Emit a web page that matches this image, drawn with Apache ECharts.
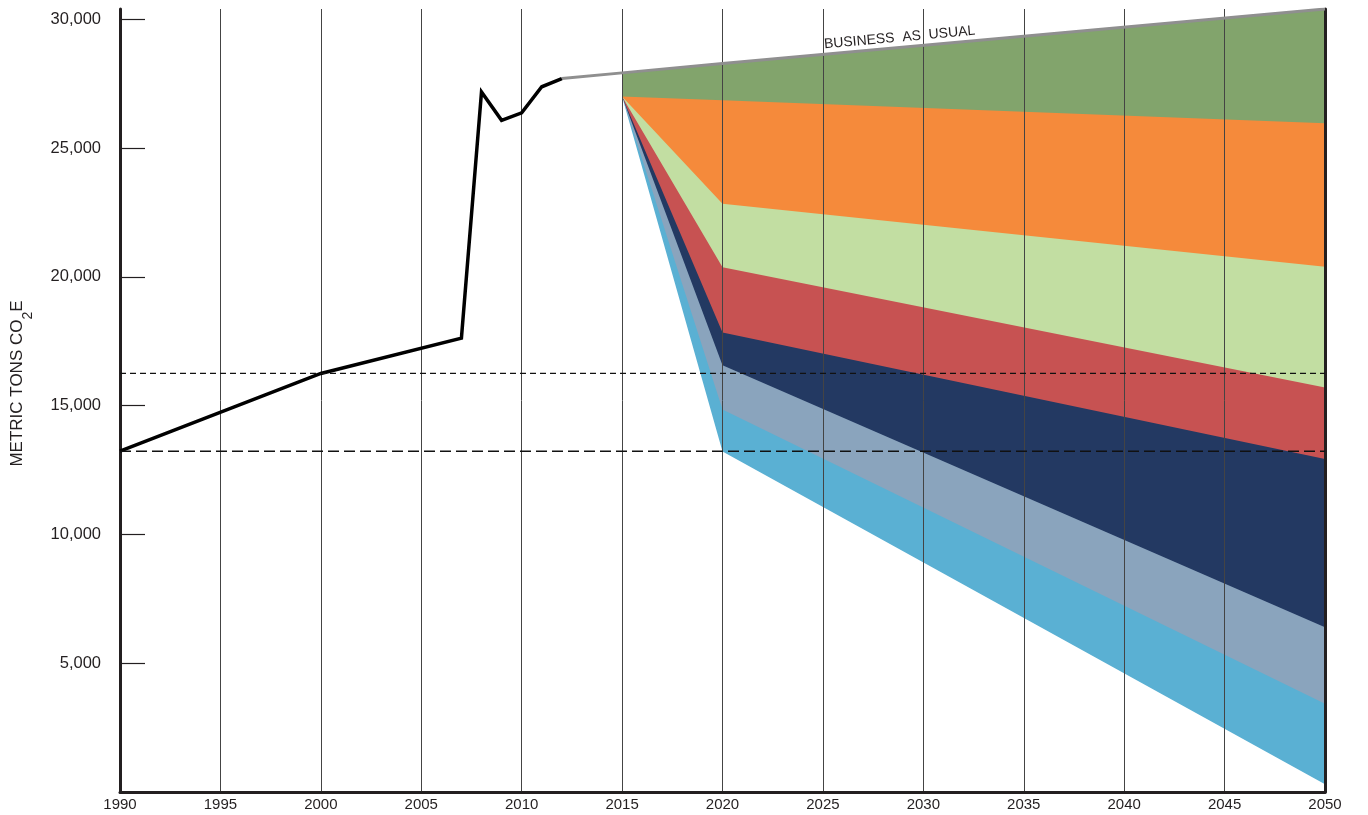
<!DOCTYPE html>
<html>
<head>
<meta charset="utf-8">
<script src="https://cdn.jsdelivr.net/npm/echarts@6/dist/echarts.min.js"></script>
<style>
  html, body { margin: 0; padding: 0; background: #fff; }
  #chart { width: 1368px; height: 815px; }
</style>
</head>
<body>
<div id="chart"></div>
<script>
// historical emissions (metric tons CO2e)
const historyYears = [1990, 2000, 2007, 2008, 2009, 2010, 2011, 2012];
const historyValues = [13230, 16250, 17620, 27180, 26080, 26370, 27380, 27700];

// business as usual projection
const bauYears = [2012, 2015, 2020, 2050];
const bauValues = [27700, 27920, 28280, 30400];

// scenario wedges: boundary values at each scenario year
const scenarioYears = [2015, 2020, 2050];
const lightBlueBottom = [27000, 13220, 300];
const lightBlueTop = [27000, 14850, 3430];
const greyBlueTop = [27000, 16570, 6400];
const navyTop = [27000, 17840, 12930];
const redTop = [27000, 20370, 15700];
const lightGreenTop = [27000, 22840, 20390];
const orangeTop = [27000, 26860, 25960];
const greenTop = [27920, 28280, 30400];

// dashed reference levels
const targetLevels = [16250, 13230];

// axis ticks
const yTicks = [5000, 10000, 15000, 20000, 25000, 30000];

const chart = echarts.init(document.getElementById('chart'));
const FONT = '"Liberation Sans", Arial, sans-serif';
const INK = '#231f20';

// each band is painted from its top edge down, the next one paints over it
const bandEdges = [
  { edge: greenTop, color: '#82a46c' },
  { edge: orangeTop, color: '#f58a3b' },
  { edge: lightGreenTop, color: '#c2dea2' },
  { edge: redTop, color: '#c75252' },
  { edge: navyTop, color: '#233962' },
  { edge: greyBlueTop, color: '#8aa4bd' },
  { edge: lightBlueTop, color: '#5ab0d3' },
  { edge: lightBlueBottom, color: '#ffffff' }
];

const pairs = (xs, ys) => xs.map((x, i) => [x, ys[i]]);

const series = bandEdges.map(b => ({
  type: 'line',
  data: pairs(scenarioYears, b.edge),
  symbol: 'none',
  lineStyle: { width: 0, opacity: 0 },
  areaStyle: { color: b.color, opacity: 1, origin: 'start' },
  silent: true,
  z: 2
}));

series.push({
  type: 'line',
  data: pairs(bauYears, bauValues),
  symbol: 'none',
  lineStyle: { color: '#8f8f8f', width: 3 },
  silent: true,
  z: 6
});

series.push({
  type: 'line',
  data: pairs(historyYears, historyValues),
  symbol: 'none',
  lineStyle: { color: '#000', width: 3.5, join: 'miter' },
  silent: true,
  z: 6
});

targetLevels.forEach((v, i) => {
  series.push({
    type: 'line',
    data: [[1990, v], [2050, v]],
    symbol: 'none',
    lineStyle: { color: '#111', width: 1.3, type: i === 0 ? [6, 4] : [11, 5] },
    silent: true,
    z: 7
  });
});

const option = {
  animation: false,
  grid: { left: 120, right: 43, top: 9, bottom: 23, outerBoundsMode: 'none', containLabel: false },
  xAxis: {
    type: 'value',
    min: 1990,
    max: 2050,
    interval: 5,
    z: 5,
    axisLine: { show: true, lineStyle: { color: INK, width: 3 } },
    axisTick: { show: false },
    axisLabel: { color: INK, fontSize: 15, fontFamily: FONT, margin: 5, formatter: v => String(v) },
    splitLine: { show: true, lineStyle: { color: '#444', width: 1 } }
  },
  yAxis: [
    {
      type: 'value',
      min: 0,
      max: 30400,
      z: 5,
      name: '{n|METRIC TONS CO}{sub|2}{n|E}',
      nameLocation: 'middle',
      nameGap: 93,
      nameTextStyle: {
        color: INK,
        fontFamily: FONT,
        padding: [0, 0, 0, 34],
        rich: {
          n: { fontSize: 17, lineHeight: 20, color: INK, fontFamily: FONT },
          sub: { fontSize: 14, lineHeight: 16, padding: [22, 0, 0, 0], color: INK, fontFamily: FONT }
        }
      },
      axisLine: { show: true, lineStyle: { color: INK, width: 3 } },
      axisTick: { show: true, inside: true, length: 25, customValues: yTicks, lineStyle: { color: INK, width: 1.2 } },
      axisLabel: {
        color: INK, fontSize: 16.5, fontFamily: FONT, margin: 19,
        customValues: yTicks,
        formatter: v => v.toLocaleString('en-US')
      },
      splitLine: { show: false }
    },
    {
      type: 'value',
      min: 0,
      max: 30400,
      position: 'right',
      z: 5,
      axisLine: { show: true, lineStyle: { color: INK, width: 3 } },
      axisTick: { show: false },
      axisLabel: { show: false },
      splitLine: { show: false }
    }
  ],
  series: series
};

chart.setOption(option);

// label along the business-as-usual line
const labelYear = 2028.85;
const k = (labelYear - bauYears[1]) / (bauYears[3] - bauYears[1]);
const labelValue = bauValues[1] + k * (bauValues[3] - bauValues[1]);
const p = chart.convertToPixel({ gridIndex: 0 }, [labelYear, labelValue]);
const q = chart.convertToPixel({ gridIndex: 0 }, [bauYears[3], bauValues[3]]);
const r = chart.convertToPixel({ gridIndex: 0 }, [bauYears[1], bauValues[1]]);
const angle = Math.atan2(r[1] - q[1], q[0] - r[0]);

chart.setOption({
  graphic: [{
    type: 'text',
    x: p[0],
    y: p[1] - 3,
    rotation: angle,
    z: 10,
    style: {
      text: 'BUSINESS  AS  USUAL',
      fill: INK,
      font: '14px ' + FONT,
      align: 'center',
      verticalAlign: 'bottom'
    }
  }]
});
</script>
</body>
</html>
